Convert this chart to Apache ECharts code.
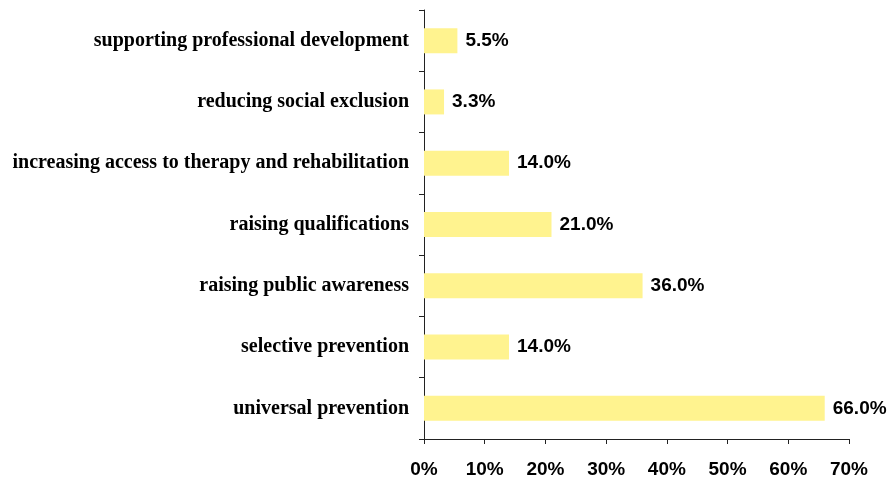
<!DOCTYPE html>
<html>
<head>
<meta charset="utf-8">
<script src="https://cdn.jsdelivr.net/npm/echarts@6/dist/echarts.min.js"></script>
<style>
  html, body { margin: 0; padding: 0; background: #fff; }
  #chart { width: 891px; height: 479px; }
</style>
</head>
<body>
<div id="chart"></div>
<script>
const categories = [
    'universal prevention',
    'selective prevention',
    'raising public awareness',
    'raising qualifications',
    'increasing access to therapy and rehabilitation',
    'reducing social exclusion',
    'supporting professional development'
];
const values = [66.0, 14.0, 36.0, 21.0, 14.0, 3.3, 5.5];

const chart = echarts.init(document.getElementById('chart'));
chart.setOption({
    animation: false,
    grid: { left: 424, right: 42, top: 10, bottom: 39 },
    xAxis: {
        type: 'value',
        min: 0,
        max: 70,
        interval: 10,
        splitLine: { show: false },
        axisLine: { show: true, lineStyle: { color: '#222', width: 1 } },
        axisTick: { show: true, length: 5, lineStyle: { color: '#222' } },
        axisLabel: {
            formatter: '{value}%',
            color: '#000',
            fontFamily: 'Liberation Sans',
            fontWeight: 'bold',
            fontSize: 19,
            margin: 21
        }
    },
    yAxis: {
        type: 'category',
        data: categories,
        axisLine: { show: true, lineStyle: { color: '#222', width: 1 } },
        axisTick: { show: true, length: 5, lineStyle: { color: '#222' } },
        axisLabel: {
            color: '#000',
            fontFamily: 'Liberation Serif',
            fontWeight: 'bold',
            fontSize: 20,
            margin: 15,
            padding: [3, 0, 0, 0]
        }
    },
    series: [{
        type: 'bar',
        data: values,
        barWidth: 25,
        itemStyle: { color: '#FFF38F' },
        label: {
            show: true,
            position: 'right',
            distance: 8,
            formatter: p => p.value.toFixed(1) + '%',
            color: '#000',
            fontFamily: 'Liberation Sans',
            fontWeight: 'bold',
            fontSize: 19
        }
    }]
});
</script>
</body>
</html>
